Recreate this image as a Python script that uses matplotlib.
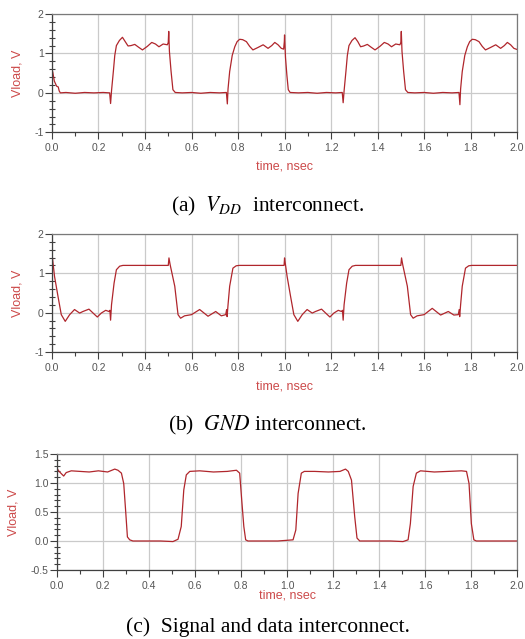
import matplotlib
matplotlib.use("Agg")
import matplotlib.pyplot as plt
from matplotlib.ticker import MultipleLocator

# ---------------- data ----------------
vdd_t = [0.000, 0.003, 0.010, 0.020, 0.027, 0.031, 0.036, 0.060, 0.100, 0.140, 0.180, 0.220, 0.248,
         0.252, 0.256, 0.264, 0.270, 0.277, 0.290, 0.303, 0.315, 0.327, 0.340, 0.356, 0.372, 0.389,
         0.410, 0.429, 0.445, 0.460, 0.478, 0.496, 0.500, 0.502, 0.505, 0.512, 0.520, 0.530,
         0.560, 0.600, 0.640, 0.680, 0.720, 0.750,
         0.754, 0.757, 0.764, 0.775, 0.786, 0.796, 0.807, 0.820, 0.836, 0.850, 0.864, 0.885, 0.908,
         0.929, 0.945, 0.958, 0.972, 0.986, 0.996, 0.999, 1.000, 1.004, 1.010, 1.016, 1.024,
         1.060, 1.100, 1.140, 1.180, 1.220, 1.248,
         1.252, 1.256, 1.264, 1.270, 1.277, 1.290, 1.303, 1.315, 1.327, 1.340, 1.356, 1.372, 1.389,
         1.410, 1.429, 1.445, 1.460, 1.478, 1.496, 1.500, 1.502, 1.505, 1.512, 1.520, 1.530,
         1.560, 1.600, 1.640, 1.680, 1.720, 1.750,
         1.754, 1.757, 1.764, 1.775, 1.786, 1.796, 1.807, 1.820, 1.836, 1.850, 1.864, 1.885, 1.908,
         1.929, 1.945, 1.958, 1.972, 1.986, 2.000]
vdd_v = [0.30, 0.54, 0.30, 0.17, 0.15, 0.05, 0.00, 0.01, -0.01, 0.01, 0.00, 0.01, 0.00,
         -0.27, 0.05, 0.55, 0.95, 1.20, 1.33, 1.41, 1.30, 1.19, 1.20, 1.23, 1.16, 1.09,
         1.18, 1.28, 1.24, 1.17, 1.24, 1.22, 1.28, 1.56, 1.05, 0.55, 0.08, 0.01,
         0.00, 0.01, -0.01, 0.01, 0.00, 0.01,
         -0.28, 0.10, 0.54, 0.95, 1.17, 1.30, 1.36, 1.35, 1.30, 1.18, 1.09, 1.15, 1.22,
         1.13, 1.20, 1.28, 1.22, 1.13, 1.11, 1.30, 1.47, 0.90, 0.45, 0.08, 0.01,
         0.00, 0.01, -0.01, 0.01, 0.00, 0.01,
         -0.25, 0.05, 0.55, 0.95, 1.20, 1.33, 1.40, 1.30, 1.17, 1.19, 1.23, 1.16, 1.09,
         1.18, 1.28, 1.24, 1.17, 1.24, 1.22, 1.28, 1.56, 1.05, 0.55, 0.08, 0.01,
         0.00, 0.01, -0.01, 0.01, 0.00, 0.01,
         -0.30, 0.10, 0.54, 0.95, 1.17, 1.30, 1.36, 1.35, 1.30, 1.18, 1.09, 1.15, 1.22,
         1.13, 1.20, 1.28, 1.22, 1.13, 1.10]

gnd_t = [0.000, 0.002, 0.011, 0.026, 0.040, 0.057, 0.076, 0.097, 0.119, 0.133, 0.159, 0.184,
         0.195, 0.212, 0.231, 0.245, 0.249, 0.252, 0.256, 0.267, 0.277, 0.291, 0.305, 0.400, 0.500,
         0.503, 0.508, 0.528, 0.542, 0.553, 0.570, 0.600, 0.635, 0.671, 0.704, 0.728, 0.747,
         0.751, 0.753, 0.757, 0.764, 0.778, 0.792, 0.805, 0.900, 0.998,
         1.000, 1.002, 1.011, 1.026, 1.040, 1.057, 1.076, 1.097, 1.119, 1.133, 1.159, 1.184,
         1.195, 1.212, 1.231, 1.245, 1.249, 1.252, 1.256, 1.267, 1.277, 1.291, 1.305, 1.400, 1.500,
         1.503, 1.508, 1.528, 1.542, 1.553, 1.570, 1.600, 1.635, 1.671, 1.704, 1.728, 1.747,
         1.751, 1.753, 1.757, 1.764, 1.778, 1.792, 1.805, 1.900, 2.000]
gnd_v = [1.20, 1.39, 0.92, 0.41, -0.05, -0.22, -0.05, 0.08, -0.01, 0.03, 0.09, -0.05,
         -0.11, -0.01, 0.06, 0.03, 0.06, -0.19, 0.20, 0.75, 1.09, 1.18, 1.20, 1.20, 1.20,
         1.39, 1.22, 0.67, -0.05, -0.14, -0.08, -0.05, 0.08, -0.09, 0.03, -0.08, -0.05,
         0.08, -0.10, 0.20, 0.67, 1.13, 1.19, 1.20, 1.20, 1.20,
         1.39, 1.30, 0.92, 0.41, -0.05, -0.22, -0.05, 0.08, -0.01, 0.03, 0.09, -0.05,
         -0.11, -0.01, 0.06, 0.03, 0.06, -0.19, 0.20, 0.75, 1.09, 1.18, 1.20, 1.20, 1.20,
         1.39, 1.22, 0.67, -0.05, -0.14, -0.08, -0.05, 0.11, -0.06, 0.03, -0.06, -0.05,
         0.08, -0.10, 0.20, 0.67, 1.13, 1.19, 1.20, 1.20, 1.20]

sig_t = [0.000, 0.009, 0.029, 0.040, 0.062, 0.100, 0.140, 0.180, 0.220, 0.251, 0.265, 0.280,
         0.290, 0.299, 0.306, 0.316, 0.330, 0.400, 0.450, 0.504, 0.526, 0.540, 0.551, 0.562,
         0.577, 0.620, 0.680, 0.740, 0.780, 0.794, 0.803, 0.812, 0.820, 0.830, 0.900, 0.960,
         1.026, 1.038, 1.048, 1.062, 1.075, 1.120, 1.180, 1.230, 1.254, 1.266, 1.280, 1.294,
         1.304, 1.316, 1.380, 1.450, 1.504, 1.526, 1.536, 1.548, 1.562, 1.580, 1.640, 1.700,
         1.758, 1.780, 1.791, 1.801, 1.812, 1.823, 1.900, 2.000]
sig_v = [1.25, 1.20, 1.12, 1.18, 1.21, 1.20, 1.19, 1.21, 1.19, 1.24, 1.22, 1.17,
         0.99, 0.48, 0.07, 0.02, 0.00, 0.00, 0.00, -0.01, 0.03, 0.25, 0.88, 1.14,
         1.20, 1.21, 1.19, 1.20, 1.22, 1.17, 0.70, 0.25, 0.02, 0.00, 0.00, 0.00,
         0.02, 0.19, 0.82, 1.17, 1.20, 1.20, 1.19, 1.20, 1.24, 1.20, 1.05, 0.42,
         0.05, 0.00, 0.00, 0.00, -0.01, 0.02, 0.30, 0.94, 1.17, 1.21, 1.19, 1.20,
         1.21, 1.20, 0.99, 0.30, 0.02, 0.00, 0.00, 0.00]

captions = [r"(a)  $V_{DD}$  interconnect.",
            r"(b)  $GND$ interconnect.",
            "(c)  Signal and data interconnect."]

# ---------------- style ----------------
LINE = "#b0262c"
LABEL = "#cc4a4a"
TICKC = "#404040"
GRID = "#cacaca"
SPINE = "#7a7a7a"

plt.rcParams["mathtext.fontset"] = "stix"
plt.rcParams["font.family"] = ["Liberation Sans", "DejaVu Sans"]
fig = plt.figure(figsize=(5.25, 6.39), dpi=100)

panels = [
    dict(t=vdd_t, v=vdd_v, rect=[0.099, 0.793, 0.886, 0.185], ylim=(-1, 2), major=1, minor=0.2,
         fmt="{:.0f}", labpad=5, cap_y=1 - 206 / 639),
    dict(t=gnd_t, v=gnd_v, rect=[0.099, 0.449, 0.886, 0.185], ylim=(-1, 2), major=1, minor=0.2,
         fmt="{:.0f}", labpad=5, cap_y=1 - 425 / 639),
    dict(t=sig_t, v=sig_v, rect=[0.1086, 0.108, 0.8764, 0.1815], ylim=(-0.5, 1.5), major=0.5, minor=0.1,
         fmt="{:.1f}", labpad=-1, cap_y=1 - 627 / 639),
]

for p, cap in zip(panels, captions):
    ax = fig.add_axes(p["rect"])
    ax.plot(p["t"], p["v"], color=LINE, lw=0.9)
    ax.xaxis.set_major_locator(MultipleLocator(0.2))
    ax.xaxis.set_minor_locator(MultipleLocator(0.1))
    ax.yaxis.set_major_locator(MultipleLocator(p["major"]))
    ax.yaxis.set_minor_locator(MultipleLocator(p["minor"]))
    ax.set_xlim(0, 2)
    ax.set_ylim(*p["ylim"])
    ax.xaxis.set_major_formatter(plt.FuncFormatter(lambda x, pos: "{:.1f}".format(x)))
    fmt = p["fmt"]
    ax.yaxis.set_major_formatter(plt.FuncFormatter(lambda y, pos, f=fmt: f.format(y)))
    ax.grid(True, which="major", color=GRID, lw=0.9)
    ax.set_axisbelow(True)
    ax.tick_params(axis="x", which="major", direction="out", length=5, width=0.8, color=TICKC,
                   labelsize=7.5, labelcolor="#555555", pad=3)
    ax.tick_params(axis="x", which="minor", direction="out", length=3, width=0.8, color=TICKC)
    ax.tick_params(axis="y", which="major", direction="out", length=5, width=0.8, color=TICKC,
                   labelsize=7.5, labelcolor="#555555", pad=1)
    ax.tick_params(axis="y", which="minor", direction="inout", length=5, width=0.8, color=TICKC)
    for s in ["left", "bottom"]:
        ax.spines[s].set_color("#404040")
        ax.spines[s].set_linewidth(0.9)
    for s in ["top", "right"]:
        ax.spines[s].set_color(SPINE)
        ax.spines[s].set_linewidth(0.9)
    ax.set_xlabel("time, nsec", color=LABEL, fontsize=9, labelpad=p["labpad"])
    ax.set_ylabel("Vload, V", color=LABEL, fontsize=9, labelpad=8)
    fig.text(0.51, p["cap_y"], cap, ha="center", va="center", fontsize=15.5,
             family="Liberation Serif")

fig.savefig("out.png", dpi=100)
